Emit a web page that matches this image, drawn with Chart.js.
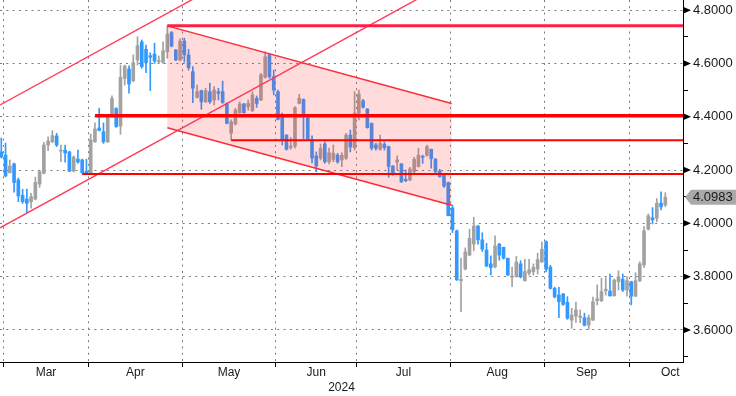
<!DOCTYPE html>
<html><head><meta charset="utf-8">
<script src="https://cdn.jsdelivr.net/npm/chart.js@4"></script>
<style>html,body{margin:0;padding:0;background:#fff}canvas{display:block}</style>
</head><body>
<canvas id="c" width="736" height="396"></canvas>
<script>
// ---------- data ----------
const startDate = '2024-02-29';
const endDate = '2024-10-11';
const holidays = ['2024-03-29','2024-05-27','2024-06-19','2024-07-04','2024-09-02'];
const monthNames = ['Jan','Feb','Mar','Apr','May','Jun','Jul','Aug','Sep','Oct','Nov','Dec'];
const yearLabel = '2024';

const openP = [4.268,4.256,4.190,4.223,4.163,4.105,4.091,4.081,4.091,4.148,
4.188,4.294,4.306,4.328,4.271,4.275,4.268,4.196,4.241,4.238,
4.196,4.189,4.306,4.358,4.344,4.306,4.400,4.431,4.365,4.544,
4.579,4.535,4.613,4.681,4.653,4.629,4.635,4.607,4.604,4.643,
4.716,4.650,4.613,4.684,4.632,4.569,4.473,4.498,4.456,4.494,
4.463,4.494,4.494,4.450,4.338,4.373,4.415,4.448,4.438,4.423,
4.469,4.463,4.548,4.632,4.550,4.494,4.407,4.331,4.285,4.290,
4.450,4.465,4.395,4.313,4.253,4.245,4.298,4.231,4.240,4.256,
4.238,4.244,4.331,4.284,4.413,4.460,4.429,4.375,4.294,4.278,
4.297,4.288,4.215,4.230,4.223,4.165,4.163,4.194,4.213,4.250,
4.255,4.278,4.241,4.196,4.184,4.153,4.058,3.972,3.785,3.829,
3.881,3.922,3.990,3.938,3.900,3.848,3.837,3.922,3.910,3.869,
3.798,3.801,3.848,3.785,3.813,3.819,3.829,3.855,3.931,3.836,
3.756,3.731,3.735,3.704,3.637,3.652,3.647,3.646,3.618,3.637,
3.710,3.710,3.747,3.746,3.728,3.781,3.790,3.750,3.781,3.727,
3.785,3.844,3.978,4.021,4.019,4.076,4.069];
const highP = [4.320,4.301,4.238,4.226,4.170,4.128,4.129,4.113,4.173,4.200,
4.304,4.325,4.348,4.338,4.294,4.294,4.271,4.253,4.275,4.241,
4.241,4.335,4.377,4.432,4.377,4.407,4.478,4.434,4.594,4.594,
4.591,4.632,4.700,4.688,4.669,4.640,4.676,4.628,4.681,4.741,
4.720,4.653,4.692,4.695,4.653,4.588,4.519,4.500,4.507,4.526,
4.513,4.507,4.534,4.452,4.388,4.432,4.456,4.450,4.463,4.494,
4.478,4.563,4.644,4.638,4.575,4.500,4.414,4.333,4.323,4.438,
4.484,4.467,4.399,4.328,4.268,4.298,4.306,4.282,4.294,4.263,
4.265,4.338,4.350,4.494,4.500,4.465,4.431,4.377,4.300,4.331,
4.306,4.290,4.217,4.253,4.225,4.200,4.210,4.248,4.281,4.256,
4.294,4.279,4.243,4.203,4.186,4.155,4.069,3.975,3.870,3.908,
3.978,4.023,3.992,3.965,3.925,3.878,3.953,3.925,3.911,3.870,
3.836,3.876,3.860,3.865,3.865,3.848,3.888,3.930,3.934,3.843,
3.761,3.760,3.737,3.725,3.681,3.705,3.675,3.663,3.656,3.723,
3.769,3.794,3.796,3.810,3.791,3.822,3.810,3.800,3.783,3.815,
3.856,3.988,4.035,4.059,4.093,4.118,4.115];
const lowP = [4.245,4.174,4.189,4.117,4.081,4.075,4.040,4.057,4.088,4.135,
4.185,4.273,4.303,4.288,4.231,4.230,4.194,4.193,4.226,4.188,
4.188,4.186,4.304,4.347,4.300,4.303,4.399,4.360,4.334,4.519,
4.488,4.531,4.594,4.582,4.565,4.498,4.600,4.600,4.600,4.620,
4.662,4.610,4.609,4.605,4.575,4.453,4.470,4.428,4.453,4.450,
4.444,4.463,4.450,4.373,4.313,4.369,4.413,4.413,4.425,4.419,
4.435,4.460,4.544,4.544,4.482,4.388,4.294,4.275,4.278,4.282,
4.448,4.318,4.313,4.227,4.193,4.238,4.225,4.223,4.231,4.225,
4.213,4.240,4.268,4.275,4.388,4.432,4.357,4.275,4.275,4.275,
4.275,4.173,4.181,4.200,4.153,4.156,4.160,4.189,4.211,4.225,
4.252,4.207,4.190,4.173,4.135,4.028,3.965,3.786,3.669,3.825,
3.878,3.897,3.922,3.894,3.837,3.806,3.833,3.862,3.866,3.804,
3.762,3.798,3.795,3.783,3.806,3.806,3.810,3.853,3.818,3.753,
3.720,3.646,3.692,3.640,3.606,3.628,3.627,3.615,3.602,3.635,
3.694,3.706,3.731,3.727,3.727,3.750,3.744,3.727,3.694,3.725,
3.781,3.835,3.975,3.998,4.006,4.050,4.062];
const closeP = [4.249,4.178,4.215,4.153,4.103,4.081,4.075,4.100,4.154,4.194,
4.294,4.309,4.329,4.294,4.274,4.264,4.196,4.249,4.230,4.190,
4.189,4.313,4.354,4.348,4.306,4.403,4.469,4.363,4.548,4.590,
4.523,4.603,4.667,4.588,4.603,4.623,4.609,4.609,4.648,4.710,
4.665,4.613,4.684,4.632,4.584,4.507,4.494,4.456,4.498,4.456,
4.500,4.488,4.454,4.375,4.381,4.425,4.448,4.415,4.450,4.482,
4.450,4.557,4.625,4.550,4.500,4.390,4.313,4.278,4.290,4.434,
4.469,4.407,4.317,4.245,4.215,4.281,4.231,4.265,4.263,4.231,
4.256,4.331,4.286,4.414,4.485,4.436,4.359,4.282,4.282,4.300,
4.284,4.213,4.185,4.238,4.156,4.160,4.204,4.240,4.256,4.248,
4.288,4.243,4.194,4.175,4.140,4.029,3.976,3.788,3.790,3.893,
3.944,3.990,3.938,3.903,3.840,3.834,3.915,3.881,3.869,3.806,
3.802,3.855,3.799,3.819,3.826,3.835,3.864,3.903,3.828,3.756,
3.724,3.706,3.696,3.644,3.656,3.675,3.652,3.618,3.646,3.706,
3.717,3.744,3.753,3.728,3.787,3.798,3.750,3.785,3.727,3.785,
3.848,3.972,4.028,4.013,4.076,4.062,4.0983];

const yMajorTicks = [3.6,3.8,4.0,4.2,4.4,4.6,4.8];
const yMinorTicks = [3.5,3.7,3.9,4.1,4.3,4.5,4.7];

// drawn studies, in (bar index, value)
const levelValues = [4.741, 4.404, 4.312, 4.185];
const levelStartIdx = [39, 22, 54, 19];
const riseUpper = [[0, 4.447], [40, 4.797]];
const riseLower = [[0, 3.986], [96, 4.826]];
const fallIdx = [39, 105.8];
const fallUpper = [4.741, 4.450];
const fallLower = [4.359, 4.068];

// ---------- derived ----------
function businessDays(s, e, hol) {
  const out = []; const d = new Date(s + 'T00:00:00Z'); const end = new Date(e + 'T00:00:00Z');
  while (d <= end) {
    const w = d.getUTCDay(); const k = d.toISOString().slice(0, 10);
    if (w !== 0 && w !== 6 && !hol.includes(k)) out.push(k);
    d.setUTCDate(d.getUTCDate() + 1);
  }
  return out;
}
const dates = businessDays(startDate, endDate, holidays);
const N = closeP.length;
const X_MIN = -0.305, X_MAX = 160.155;

const monthStarts = [];
for (let i = 1; i < dates.length; i++) {
  if (dates[i].slice(5, 7) !== dates[i - 1].slice(5, 7)) monthStarts.push({ b: i - 0.5, m: +dates[i].slice(5, 7) - 1 });
}
const xTicks = [];
monthStarts.forEach((ms, k) => {
  xTicks.push({ value: ms.b, kind: 'b', name: '' });
  const next = monthStarts[k + 1];
  const c = next ? (ms.b + next.b) / 2 : Math.min(ms.b + 10.75, X_MAX - 3);
  xTicks.push({ value: c, kind: 'c', name: monthNames[ms.m] });
});
xTicks.sort((a, b) => a.value - b.value);

const yTicks = yMajorTicks.map(v => ({ value: v, isMajor: true }))
  .concat(yMinorTicks.map(v => ({ value: v, isMajor: false })))
  .sort((a, b) => a.value - b.value);

const UP = '#a2a2a2', DOWN = '#3399ff';
const colorAt = i => closeP[i] >= openP[i] ? UP : DOWN;
const bodies = closeP.map((c, i) => ({ x: i, y: [openP[i], c] }));
const wicks = closeP.map((c, i) => ({ x: i, y: [lowP[i], highP[i]] }));

const FONT = '"Liberation Sans", Arial, sans-serif';
const GRID = '#7a7a7a';

const overlay = {
  id: 'overlay',
  afterDatasetsDraw(chart) {
    const { ctx, chartArea: a, scales: { x, y } } = chart;
    const px = v => x.getPixelForValue(v), py = v => y.getPixelForValue(v);
    ctx.save();
    ctx.beginPath(); ctx.rect(a.left, a.top, a.right - a.left, a.bottom - a.top); ctx.clip();
    // falling channel fill
    ctx.fillStyle = 'rgba(255,40,40,0.17)';
    ctx.beginPath();
    ctx.moveTo(px(fallIdx[0]), py(fallUpper[0]));
    ctx.lineTo(px(fallIdx[1]), py(fallUpper[1]));
    ctx.lineTo(px(fallIdx[1]), py(fallLower[1]));
    ctx.lineTo(px(fallIdx[0]), py(fallLower[0]));
    ctx.closePath(); ctx.fill();
    const seg = (x1, y1, x2, y2, col, w) => {
      ctx.strokeStyle = col; ctx.lineWidth = w; ctx.beginPath();
      ctx.moveTo(px(x1), py(y1)); ctx.lineTo(px(x2), py(y2)); ctx.stroke();
    };
    const ext = (p, q, col, w) => {
      const s = (q[1] - p[1]) / (q[0] - p[0]);
      seg(X_MIN, p[1] + s * (X_MIN - p[0]), X_MAX, p[1] + s * (X_MAX - p[0]), col, w);
    };
    ext(riseUpper[0], riseUpper[1], '#ff3a5c', 1.4);
    ext(riseLower[0], riseLower[1], '#ff3a5c', 1.4);
    seg(fallIdx[0], fallUpper[0], fallIdx[1], fallUpper[1], '#ff2a3a', 1.5);
    seg(fallIdx[0], fallLower[0], fallIdx[1], fallLower[1], '#ff2a3a', 1.5);
    const lvlStyle = [['#ff1f44', 3], ['#ff0000', 3.5], ['#ff0000', 2], ['#ff0000', 2]];
    levelValues.forEach((v, k) => seg(levelStartIdx[k], v, X_MAX, v, lvlStyle[k][0], lvlStyle[k][1]));
    ctx.restore();
  },
  afterDraw(chart) {
    const { ctx, chartArea: a, scales: { y } } = chart;
    ctx.save();
    ctx.fillStyle = '#000';
    yMajorTicks.forEach(v => {
      const yy = y.getPixelForValue(v);
      ctx.beginPath(); ctx.moveTo(a.right, yy - 3.5); ctx.lineTo(a.right + 8, yy); ctx.lineTo(a.right, yy + 3.5); ctx.closePath(); ctx.fill();
    });
    const last = closeP[N - 1];
    const yv = y.getPixelForValue(last);
    const W = chart.width;
    ctx.fillStyle = '#a9a9a9';
    ctx.beginPath();
    ctx.moveTo(a.right + 2, yv); ctx.lineTo(a.right + 8, yv - 7.5); ctx.lineTo(W, yv - 7.5);
    ctx.lineTo(W, yv + 7.5); ctx.lineTo(a.right + 8, yv + 7.5); ctx.closePath(); ctx.fill();
    ctx.fillStyle = '#1a1a1a'; ctx.font = '13px ' + FONT; ctx.textBaseline = 'middle'; ctx.textAlign = 'left';
    ctx.fillText(last.toFixed(4), a.right + 10, yv + 0.5);
    ctx.restore();
  }
};

new Chart(document.getElementById('c'), {
  type: 'bar',
  data: {
    datasets: [
      { label: 'body', data: bodies, backgroundColor: ctx => colorAt(ctx.dataIndex), barThickness: 3, grouped: false, minBarLength: 1, borderWidth: 0 },
      { label: 'wick', data: wicks, backgroundColor: ctx => colorAt(ctx.dataIndex), barThickness: 1, grouped: false, minBarLength: 1, borderWidth: 0 }
    ]
  },
  options: {
    responsive: false, animation: false, devicePixelRatio: 1,
    layout: { padding: 0 },
    plugins: { legend: { display: false }, tooltip: { enabled: false } },
    scales: {
      x: {
        type: 'linear', position: 'bottom', min: X_MIN, max: X_MAX, offset: false,
        afterBuildTicks: s => { s.ticks = xTicks.map(t => ({ ...t })); },
        afterFit: s => { s.height = 34; s.paddingLeft = 0; s.paddingRight = 0; s.paddingTop = 0; s.paddingBottom = 0; },
        grid: {
          offset: false, drawOnChartArea: true, drawTicks: true, tickLength: 5, lineWidth: 1,
          color: ctx => (ctx.tick && ctx.tick.kind === 'b') ? GRID : 'rgba(0,0,0,0)',
          tickColor: ctx => (ctx.tick && ctx.tick.kind === 'b') ? '#000' : 'rgba(0,0,0,0)'
        },
        border: { display: true, color: '#000', width: 1, dash: [2, 4.3] },
        ticks: {
          autoSkip: false, maxRotation: 0, minRotation: 0, padding: 0, color: '#1a1a1a',
          font: { family: FONT, size: 12, lineHeight: 1 },
          callback: (v, i, t) => t[i].name || ''
        },
        title: { display: true, text: yearLabel, color: '#1a1a1a', font: { family: FONT, size: 12 }, padding: { top: 0, bottom: 1 } }
      },
      y: {
        type: 'linear', position: 'right', min: 3.4798, max: 4.838,
        afterBuildTicks: s => { s.ticks = yTicks.map(t => ({ ...t })); },
        afterFit: s => { s.width = 53; s.paddingTop = 0; s.paddingBottom = 0; s.paddingLeft = 0; s.paddingRight = 0; },
        grid: {
          drawOnChartArea: true, drawTicks: true, tickLength: 5, lineWidth: 1,
          color: ctx => (ctx.tick && ctx.tick.isMajor) ? GRID : 'rgba(0,0,0,0)',
          tickColor: ctx => (ctx.tick && !ctx.tick.isMajor) ? '#000' : 'rgba(0,0,0,0)'
        },
        border: { display: true, color: '#000', width: 1, dash: [2, 4.3] },
        ticks: {
          padding: 5, color: '#1a1a1a', font: { family: FONT, size: 13 },
          callback: (v, i, t) => t[i].isMajor ? v.toFixed(4) : ''
        }
      }
    }
  },
  plugins: [overlay]
});
</script>
</body></html>
